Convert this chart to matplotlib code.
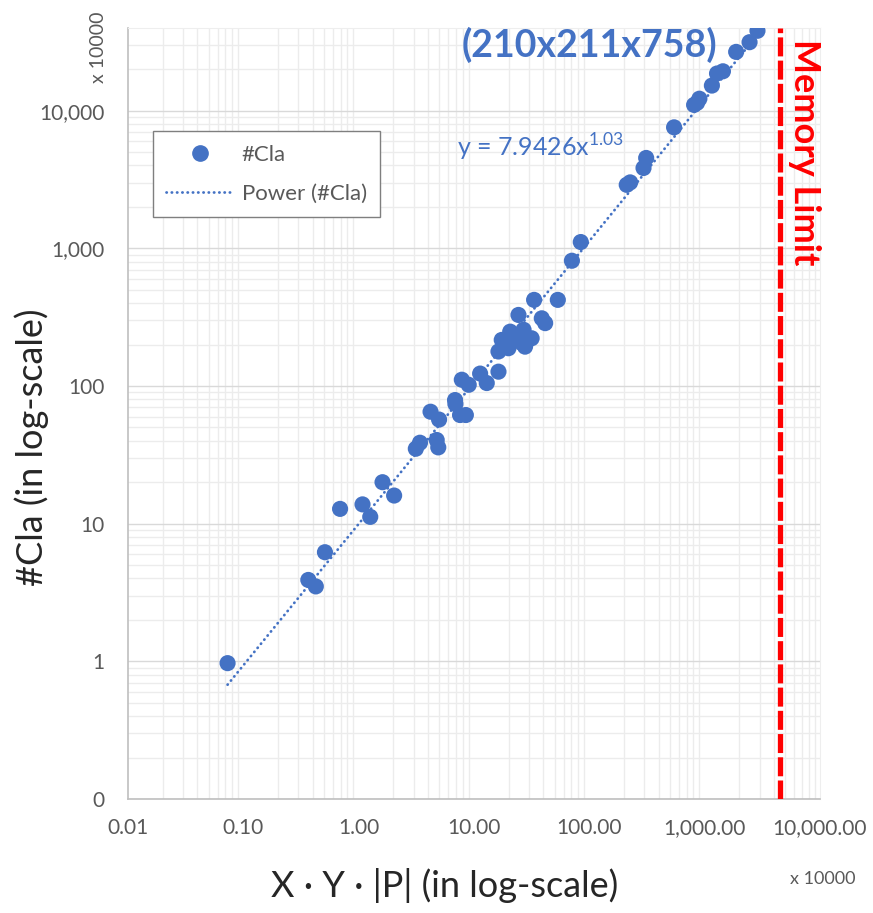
import numpy as np
import matplotlib
matplotlib.use("Agg")
import matplotlib.pyplot as plt
from matplotlib.ticker import FixedLocator, LogLocator, NullFormatter
from matplotlib.lines import Line2D

plt.rcParams['font.family'] = ['Lato', 'DejaVu Sans']
plt.rcParams['mathtext.fontset'] = 'custom'
plt.rcParams['mathtext.rm'] = 'Lato'

# X*Y*|P| (x 10000) and #Cla
size_xyp = [0.073, 0.366, 0.425, 0.51, 0.69, 1.08, 1.26, 1.61, 2.03,
            3.13, 3.4, 4.75, 4.9, 4.2, 4.98, 6.85, 6.9, 7.57, 8.5, 7.84,
            9.0, 11.3, 12.9, 16.3, 16.3, 19.9, 17.4, 20.6, 24.3, 26.9,
            31.6, 27.7, 24.3, 38.7, 41.4, 33.2, 53.3, 22.5, 28.5, 26.0,
            70.6, 84.3, 211, 226, 295, 311, 543, 810, 900, 860,
            1155, 1280, 1440, 1875, 2450, 2870]
n_cla = [0.97, 3.9, 3.5, 6.2, 12.8, 13.8, 11.2, 20, 16,
         35, 38.7, 40.5, 35.8, 65, 57, 79, 74, 61.5, 61.5, 111,
         102, 123, 105, 127, 178, 188, 216, 248, 216, 256,
         222, 193, 328, 310, 286, 422, 422, 235, 210, 205,
         812, 1110, 2890, 3010, 3830, 4530, 7560, 11000, 12200, 11400,
         15200, 18600, 19300, 26700, 31400, 38000]

memory_limit = 4500
x_ticks = [0.01, 0.1, 1, 10, 100, 1000, 10000]
x_labels = ['0.01', '0.10', '1.00', '10.00', '100.00', '1,000.00', '10,000.00']
y_ticks = [0.1, 1, 10, 100, 1000, 10000]
y_labels = ['0', '1', '10', '100', '1,000', '10,000']

blue = '#4472C4'
grey = '#595959'

fig = plt.figure(figsize=(8.73, 9.13), dpi=100)
ax = fig.add_axes([128 / 873, 1 - 799 / 913, 692 / 873, 771 / 913])
ax.set_xscale('log')
ax.set_yscale('log')
ax.set_xlim(0.01, 10000)
ax.set_ylim(0.1, 10 ** 4.6)

# grid: minor on both, major only horizontal
ax.xaxis.set_minor_locator(LogLocator(base=10, subs=np.arange(2, 10), numticks=20))
ax.yaxis.set_minor_locator(LogLocator(base=10, subs=np.arange(2, 10), numticks=20))
ax.xaxis.set_minor_formatter(NullFormatter())
ax.yaxis.set_minor_formatter(NullFormatter())
ax.grid(which='minor', color='#ececec', lw=1.0)
ax.grid(which='major', axis='y', color='#d9d9d9', lw=1.0)
ax.set_axisbelow(True)

ax.xaxis.set_major_locator(FixedLocator(x_ticks))
ax.set_xticklabels(x_labels)
ax.yaxis.set_major_locator(FixedLocator(y_ticks))
ax.set_yticklabels(y_labels)
ax.tick_params(which='both', length=0)
ax.tick_params(axis='x', pad=14, labelsize=15, labelcolor=grey)
ax.tick_params(axis='y', pad=17, labelsize=15, labelcolor=grey)

for s in ['left', 'bottom']:
    ax.spines[s].set_color('#bfbfbf')
    ax.spines[s].set_linewidth(1.2)
for s in ['top', 'right']:
    ax.spines[s].set_color('#eeeeee')

# trendline (power fit)
lx = np.log10(size_xyp)
ly = np.log10(n_cla)
b, a = np.polyfit(lx, ly, 1)
tx = np.logspace(lx.min(), lx.max(), 200)
ax.plot(tx, 10 ** a * tx ** b, color=blue, lw=2, linestyle=(0, (0.1, 1.8)),
        dash_capstyle='round', zorder=2)

ax.scatter(size_xyp, n_cla, s=135, color=blue, edgecolors='none', zorder=3)

ax.axvline(memory_limit, color='#ff0000', lw=3.8, linestyle=(0, (3.6, 0.8)), zorder=4)

ax.text(0.978, 0.986, 'Memory Limit', transform=ax.transAxes, rotation=-90,
        ha='center', va='top', color='#ff0000', fontsize=26, fontweight='bold')
ax.text(0.667, 0.978, '(210x211x758)', transform=ax.transAxes, ha='center', va='center',
        color=blue, fontsize=27, fontweight='bold')
ax.text(0.476, 0.845, r'y = 7.9426x$^{\mathregular{1.03}}$', transform=ax.transAxes,
        ha='left', va='center', color=blue, fontsize=18)

handles = [Line2D([], [], marker='o', color=blue, ls='none', markersize=11),
           Line2D([], [], color=blue, lw=2, linestyle=(0, (0.1, 1.8)), dash_capstyle='round')]
leg = ax.legend(handles, ['#Cla', 'Power (#Cla)'], loc='upper left',
                bbox_to_anchor=(0.036, 0.866), borderaxespad=0, fancybox=False,
                framealpha=1, edgecolor='#7f7f7f', fontsize=16, labelspacing=0.85,
                handlelength=3.0, borderpad=0.6, handletextpad=0.4)
for t in leg.get_texts():
    t.set_color(grey)
leg.get_frame().set_linewidth(1.0)

fig.text(445 / 873, 1 - 885 / 913, 'X · Y · |P| (in log-scale)', ha='center', va='center',
         fontsize=26, color='#262626')
fig.text(32 / 873, 1 - 447 / 913, '#Cla (in log-scale)', ha='center', va='center',
         rotation=90, fontsize=26, color='#262626')
fig.text(855 / 873, 1 - 879 / 913, 'x 10000', ha='right', va='center', fontsize=13, color=grey)
fig.text(98 / 873, 1 - 47 / 913, 'x 10000', ha='center', va='center', rotation=90,
         fontsize=14, color=grey)

fig.savefig('out.png', dpi=100)
